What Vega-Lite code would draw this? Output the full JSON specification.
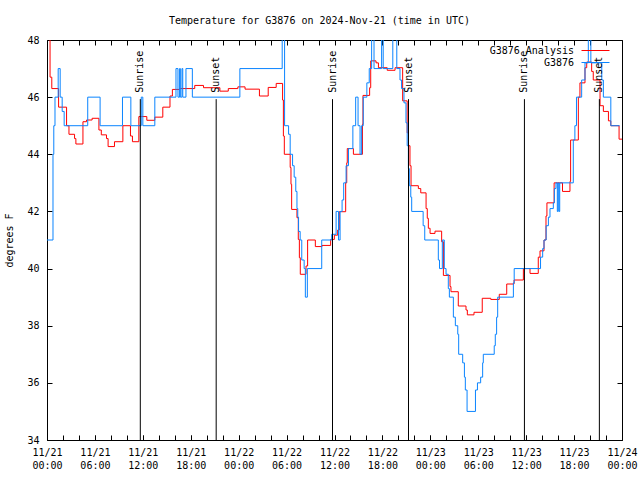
{
  "$schema": "https://vega.github.io/schema/vega-lite/v6.json",
  "width": 575,
  "height": 400,
  "autosize": {"type": "none"},
  "padding": {"left": 47, "top": 40, "right": 18, "bottom": 40},
  "background": "white",
  "config": {
    "view": {"stroke": "black", "strokeWidth": 1},
    "font": "DejaVu Sans Mono"
  },
  "title": {
    "text": "Temperature for G3876 on 2024-Nov-21 (time in UTC)",
    "font": "DejaVu Sans Mono",
    "fontSize": 10,
    "fontWeight": "normal",
    "color": "black",
    "anchor": "middle",
    "baseline": "bottom",
    "offset": 15,
    "dx": -15,
    "dy": 16
  },
  "datasets": {
    "ana": [
      {"series": "G3876 Analysis", "time": "2024-11-21T00:00:00Z", "temp": 49},
      {"series": "G3876 Analysis", "time": "2024-11-21T00:23:00Z", "temp": 46.7},
      {"series": "G3876 Analysis", "time": "2024-11-21T00:36:00Z", "temp": 46.3},
      {"series": "G3876 Analysis", "time": "2024-11-21T01:27:00Z", "temp": 45.65},
      {"series": "G3876 Analysis", "time": "2024-11-21T02:27:00Z", "temp": 45.0},
      {"series": "G3876 Analysis", "time": "2024-11-21T02:45:00Z", "temp": 44.7},
      {"series": "G3876 Analysis", "time": "2024-11-21T03:27:00Z", "temp": 44.55},
      {"series": "G3876 Analysis", "time": "2024-11-21T03:37:00Z", "temp": 44.36},
      {"series": "G3876 Analysis", "time": "2024-11-21T04:30:00Z", "temp": 45.14},
      {"series": "G3876 Analysis", "time": "2024-11-21T04:57:00Z", "temp": 45.2},
      {"series": "G3876 Analysis", "time": "2024-11-21T05:39:00Z", "temp": 45.26},
      {"series": "G3876 Analysis", "time": "2024-11-21T06:30:00Z", "temp": 44.85},
      {"series": "G3876 Analysis", "time": "2024-11-21T06:48:00Z", "temp": 44.68},
      {"series": "G3876 Analysis", "time": "2024-11-21T07:27:00Z", "temp": 44.55},
      {"series": "G3876 Analysis", "time": "2024-11-21T07:39:00Z", "temp": 44.27},
      {"series": "G3876 Analysis", "time": "2024-11-21T08:27:00Z", "temp": 44.44},
      {"series": "G3876 Analysis", "time": "2024-11-21T09:30:00Z", "temp": 45.0},
      {"series": "G3876 Analysis", "time": "2024-11-21T10:27:00Z", "temp": 44.64},
      {"series": "G3876 Analysis", "time": "2024-11-21T10:42:00Z", "temp": 44.44},
      {"series": "G3876 Analysis", "time": "2024-11-21T11:30:00Z", "temp": 45.32},
      {"series": "G3876 Analysis", "time": "2024-11-21T12:30:00Z", "temp": 45.19},
      {"series": "G3876 Analysis", "time": "2024-11-21T13:30:00Z", "temp": 45.3},
      {"series": "G3876 Analysis", "time": "2024-11-21T14:30:00Z", "temp": 45.65},
      {"series": "G3876 Analysis", "time": "2024-11-21T15:24:00Z", "temp": 46.04},
      {"series": "G3876 Analysis", "time": "2024-11-21T15:42:00Z", "temp": 46.27},
      {"series": "G3876 Analysis", "time": "2024-11-21T16:36:00Z", "temp": 46.3},
      {"series": "G3876 Analysis", "time": "2024-11-21T18:30:00Z", "temp": 46.41},
      {"series": "G3876 Analysis", "time": "2024-11-21T19:36:00Z", "temp": 46.33},
      {"series": "G3876 Analysis", "time": "2024-11-21T21:39:00Z", "temp": 46.21},
      {"series": "G3876 Analysis", "time": "2024-11-21T22:42:00Z", "temp": 46.3},
      {"series": "G3876 Analysis", "time": "2024-11-21T23:54:00Z", "temp": 46.36},
      {"series": "G3876 Analysis", "time": "2024-11-22T00:48:00Z", "temp": 46.28},
      {"series": "G3876 Analysis", "time": "2024-11-22T02:36:00Z", "temp": 46.04},
      {"series": "G3876 Analysis", "time": "2024-11-22T03:42:00Z", "temp": 46.34},
      {"series": "G3876 Analysis", "time": "2024-11-22T04:42:00Z", "temp": 46.48},
      {"series": "G3876 Analysis", "time": "2024-11-22T05:30:00Z", "temp": 45.9},
      {"series": "G3876 Analysis", "time": "2024-11-22T05:36:00Z", "temp": 44.64},
      {"series": "G3876 Analysis", "time": "2024-11-22T05:43:00Z", "temp": 44.0},
      {"series": "G3876 Analysis", "time": "2024-11-22T06:27:00Z", "temp": 43.54},
      {"series": "G3876 Analysis", "time": "2024-11-22T06:33:00Z", "temp": 42.95},
      {"series": "G3876 Analysis", "time": "2024-11-22T06:38:00Z", "temp": 42.07},
      {"series": "G3876 Analysis", "time": "2024-11-22T07:18:00Z", "temp": 41.78},
      {"series": "G3876 Analysis", "time": "2024-11-22T07:28:00Z", "temp": 41.02},
      {"series": "G3876 Analysis", "time": "2024-11-22T07:36:00Z", "temp": 40.38},
      {"series": "G3876 Analysis", "time": "2024-11-22T07:43:00Z", "temp": 39.8},
      {"series": "G3876 Analysis", "time": "2024-11-22T08:26:00Z", "temp": 40.09},
      {"series": "G3876 Analysis", "time": "2024-11-22T08:38:00Z", "temp": 41.0},
      {"series": "G3876 Analysis", "time": "2024-11-22T09:36:00Z", "temp": 40.77},
      {"series": "G3876 Analysis", "time": "2024-11-22T10:26:00Z", "temp": 40.81},
      {"series": "G3876 Analysis", "time": "2024-11-22T11:31:00Z", "temp": 41.02},
      {"series": "G3876 Analysis", "time": "2024-11-22T11:59:00Z", "temp": 41.17},
      {"series": "G3876 Analysis", "time": "2024-11-22T12:24:00Z", "temp": 41.35},
      {"series": "G3876 Analysis", "time": "2024-11-22T12:36:00Z", "temp": 41.99},
      {"series": "G3876 Analysis", "time": "2024-11-22T13:24:00Z", "temp": 43.0},
      {"series": "G3876 Analysis", "time": "2024-11-22T13:32:00Z", "temp": 43.7},
      {"series": "G3876 Analysis", "time": "2024-11-22T13:36:00Z", "temp": 44.2},
      {"series": "G3876 Analysis", "time": "2024-11-22T14:22:00Z", "temp": 44.0},
      {"series": "G3876 Analysis", "time": "2024-11-22T15:30:00Z", "temp": 45.05},
      {"series": "G3876 Analysis", "time": "2024-11-22T15:34:00Z", "temp": 46.06},
      {"series": "G3876 Analysis", "time": "2024-11-22T16:24:00Z", "temp": 46.33},
      {"series": "G3876 Analysis", "time": "2024-11-22T16:32:00Z", "temp": 47.27},
      {"series": "G3876 Analysis", "time": "2024-11-22T17:12:00Z", "temp": 47.2},
      {"series": "G3876 Analysis", "time": "2024-11-22T17:30:00Z", "temp": 47.03},
      {"series": "G3876 Analysis", "time": "2024-11-22T18:36:00Z", "temp": 46.94},
      {"series": "G3876 Analysis", "time": "2024-11-22T19:35:00Z", "temp": 47.03},
      {"series": "G3876 Analysis", "time": "2024-11-22T20:32:00Z", "temp": 45.87},
      {"series": "G3876 Analysis", "time": "2024-11-22T21:06:00Z", "temp": 44.75},
      {"series": "G3876 Analysis", "time": "2024-11-22T21:15:00Z", "temp": 44.3},
      {"series": "G3876 Analysis", "time": "2024-11-22T21:27:00Z", "temp": 43.6},
      {"series": "G3876 Analysis", "time": "2024-11-22T21:35:00Z", "temp": 42.9},
      {"series": "G3876 Analysis", "time": "2024-11-22T22:30:00Z", "temp": 42.8},
      {"series": "G3876 Analysis", "time": "2024-11-22T22:48:00Z", "temp": 42.65},
      {"series": "G3876 Analysis", "time": "2024-11-22T23:28:00Z", "temp": 42.1},
      {"series": "G3876 Analysis", "time": "2024-11-22T23:37:00Z", "temp": 41.76},
      {"series": "G3876 Analysis", "time": "2024-11-22T23:45:00Z", "temp": 41.41},
      {"series": "G3876 Analysis", "time": "2024-11-22T23:58:00Z", "temp": 41.23},
      {"series": "G3876 Analysis", "time": "2024-11-23T00:35:00Z", "temp": 41.31},
      {"series": "G3876 Analysis", "time": "2024-11-23T01:25:00Z", "temp": 40.94},
      {"series": "G3876 Analysis", "time": "2024-11-23T01:38:00Z", "temp": 39.76},
      {"series": "G3876 Analysis", "time": "2024-11-23T02:28:00Z", "temp": 39.37},
      {"series": "G3876 Analysis", "time": "2024-11-23T02:35:00Z", "temp": 39.19},
      {"series": "G3876 Analysis", "time": "2024-11-23T03:30:00Z", "temp": 38.69},
      {"series": "G3876 Analysis", "time": "2024-11-23T04:28:00Z", "temp": 38.55},
      {"series": "G3876 Analysis", "time": "2024-11-23T04:38:00Z", "temp": 38.38},
      {"series": "G3876 Analysis", "time": "2024-11-23T05:28:00Z", "temp": 38.47},
      {"series": "G3876 Analysis", "time": "2024-11-23T06:30:00Z", "temp": 38.96},
      {"series": "G3876 Analysis", "time": "2024-11-23T07:34:00Z", "temp": 38.92},
      {"series": "G3876 Analysis", "time": "2024-11-23T08:38:00Z", "temp": 39.1},
      {"series": "G3876 Analysis", "time": "2024-11-23T09:34:00Z", "temp": 39.46},
      {"series": "G3876 Analysis", "time": "2024-11-23T10:29:00Z", "temp": 39.6},
      {"series": "G3876 Analysis", "time": "2024-11-23T11:39:00Z", "temp": 40.0},
      {"series": "G3876 Analysis", "time": "2024-11-23T12:29:00Z", "temp": 39.83},
      {"series": "G3876 Analysis", "time": "2024-11-23T13:31:00Z", "temp": 40.4},
      {"series": "G3876 Analysis", "time": "2024-11-23T13:44:00Z", "temp": 40.62},
      {"series": "G3876 Analysis", "time": "2024-11-23T14:14:00Z", "temp": 41.0},
      {"series": "G3876 Analysis", "time": "2024-11-23T14:29:00Z", "temp": 41.84},
      {"series": "G3876 Analysis", "time": "2024-11-23T14:36:00Z", "temp": 42.3},
      {"series": "G3876 Analysis", "time": "2024-11-23T15:30:00Z", "temp": 43.0},
      {"series": "G3876 Analysis", "time": "2024-11-23T16:33:00Z", "temp": 42.7},
      {"series": "G3876 Analysis", "time": "2024-11-23T17:29:00Z", "temp": 43.05},
      {"series": "G3876 Analysis", "time": "2024-11-23T17:34:00Z", "temp": 44.5},
      {"series": "G3876 Analysis", "time": "2024-11-23T18:32:00Z", "temp": 46.0},
      {"series": "G3876 Analysis", "time": "2024-11-23T18:44:00Z", "temp": 46.5},
      {"series": "G3876 Analysis", "time": "2024-11-23T19:22:00Z", "temp": 47.03},
      {"series": "G3876 Analysis", "time": "2024-11-23T19:35:00Z", "temp": 47.23},
      {"series": "G3876 Analysis", "time": "2024-11-23T20:12:00Z", "temp": 46.9},
      {"series": "G3876 Analysis", "time": "2024-11-23T20:24:00Z", "temp": 46.6},
      {"series": "G3876 Analysis", "time": "2024-11-23T21:15:00Z", "temp": 45.7},
      {"series": "G3876 Analysis", "time": "2024-11-23T21:40:00Z", "temp": 45.5},
      {"series": "G3876 Analysis", "time": "2024-11-23T22:18:00Z", "temp": 45.17},
      {"series": "G3876 Analysis", "time": "2024-11-23T22:36:00Z", "temp": 45.0},
      {"series": "G3876 Analysis", "time": "2024-11-23T23:38:00Z", "temp": 44.53},
      {"series": "G3876 Analysis", "time": "2024-11-24T00:00:00Z", "temp": 44.53}
    ],
    "obs": [
      {"series": "G3876", "time": "2024-11-21T00:00:00Z", "temp": 41},
      {"series": "G3876", "time": "2024-11-21T00:45:00Z", "temp": 44},
      {"series": "G3876", "time": "2024-11-21T00:51:00Z", "temp": 45},
      {"series": "G3876", "time": "2024-11-21T01:00:00Z", "temp": 46},
      {"series": "G3876", "time": "2024-11-21T01:24:00Z", "temp": 47},
      {"series": "G3876", "time": "2024-11-21T01:39:00Z", "temp": 46},
      {"series": "G3876", "time": "2024-11-21T01:54:00Z", "temp": 45.5},
      {"series": "G3876", "time": "2024-11-21T02:09:00Z", "temp": 45},
      {"series": "G3876", "time": "2024-11-21T05:06:00Z", "temp": 46},
      {"series": "G3876", "time": "2024-11-21T06:39:00Z", "temp": 45},
      {"series": "G3876", "time": "2024-11-21T09:27:00Z", "temp": 46},
      {"series": "G3876", "time": "2024-11-21T10:30:00Z", "temp": 45},
      {"series": "G3876", "time": "2024-11-21T11:48:00Z", "temp": 46},
      {"series": "G3876", "time": "2024-11-21T12:00:00Z", "temp": 45},
      {"series": "G3876", "time": "2024-11-21T13:30:00Z", "temp": 46},
      {"series": "G3876", "time": "2024-11-21T16:09:00Z", "temp": 47},
      {"series": "G3876", "time": "2024-11-21T16:24:00Z", "temp": 46},
      {"series": "G3876", "time": "2024-11-21T16:36:00Z", "temp": 47},
      {"series": "G3876", "time": "2024-11-21T16:42:00Z", "temp": 46},
      {"series": "G3876", "time": "2024-11-21T16:54:00Z", "temp": 47},
      {"series": "G3876", "time": "2024-11-21T17:00:00Z", "temp": 46},
      {"series": "G3876", "time": "2024-11-21T17:24:00Z", "temp": 47},
      {"series": "G3876", "time": "2024-11-21T18:12:00Z", "temp": 46},
      {"series": "G3876", "time": "2024-11-22T00:09:00Z", "temp": 47},
      {"series": "G3876", "time": "2024-11-22T05:27:00Z", "temp": 49},
      {"series": "G3876", "time": "2024-11-22T05:45:00Z", "temp": 45},
      {"series": "G3876", "time": "2024-11-22T06:15:00Z", "temp": 44.7},
      {"series": "G3876", "time": "2024-11-22T06:27:00Z", "temp": 44},
      {"series": "G3876", "time": "2024-11-22T06:45:00Z", "temp": 43.6},
      {"series": "G3876", "time": "2024-11-22T06:57:00Z", "temp": 43.2},
      {"series": "G3876", "time": "2024-11-22T07:09:00Z", "temp": 42.7},
      {"series": "G3876", "time": "2024-11-22T07:18:00Z", "temp": 42.1},
      {"series": "G3876", "time": "2024-11-22T07:24:00Z", "temp": 41.8},
      {"series": "G3876", "time": "2024-11-22T07:30:00Z", "temp": 41.3},
      {"series": "G3876", "time": "2024-11-22T07:42:00Z", "temp": 41},
      {"series": "G3876", "time": "2024-11-22T07:54:00Z", "temp": 40.3},
      {"series": "G3876", "time": "2024-11-22T08:12:00Z", "temp": 40},
      {"series": "G3876", "time": "2024-11-22T08:21:00Z", "temp": 39},
      {"series": "G3876", "time": "2024-11-22T08:36:00Z", "temp": 40},
      {"series": "G3876", "time": "2024-11-22T10:24:00Z", "temp": 41},
      {"series": "G3876", "time": "2024-11-22T11:39:00Z", "temp": 41.2},
      {"series": "G3876", "time": "2024-11-22T12:12:00Z", "temp": 42},
      {"series": "G3876", "time": "2024-11-22T12:30:00Z", "temp": 41},
      {"series": "G3876", "time": "2024-11-22T12:42:00Z", "temp": 42},
      {"series": "G3876", "time": "2024-11-22T12:57:00Z", "temp": 42.4},
      {"series": "G3876", "time": "2024-11-22T13:09:00Z", "temp": 43},
      {"series": "G3876", "time": "2024-11-22T13:27:00Z", "temp": 43.6},
      {"series": "G3876", "time": "2024-11-22T13:45:00Z", "temp": 44.2},
      {"series": "G3876", "time": "2024-11-22T14:18:00Z", "temp": 45},
      {"series": "G3876", "time": "2024-11-22T14:39:00Z", "temp": 46},
      {"series": "G3876", "time": "2024-11-22T14:57:00Z", "temp": 45},
      {"series": "G3876", "time": "2024-11-22T15:12:00Z", "temp": 44},
      {"series": "G3876", "time": "2024-11-22T15:24:00Z", "temp": 45},
      {"series": "G3876", "time": "2024-11-22T15:36:00Z", "temp": 46},
      {"series": "G3876", "time": "2024-11-22T16:03:00Z", "temp": 46.5},
      {"series": "G3876", "time": "2024-11-22T16:21:00Z", "temp": 47},
      {"series": "G3876", "time": "2024-11-22T16:39:00Z", "temp": 49},
      {"series": "G3876", "time": "2024-11-22T16:57:00Z", "temp": 47},
      {"series": "G3876", "time": "2024-11-22T17:54:00Z", "temp": 49},
      {"series": "G3876", "time": "2024-11-22T18:06:00Z", "temp": 47},
      {"series": "G3876", "time": "2024-11-22T19:18:00Z", "temp": 49},
      {"series": "G3876", "time": "2024-11-22T19:48:00Z", "temp": 47},
      {"series": "G3876", "time": "2024-11-22T20:12:00Z", "temp": 46.6},
      {"series": "G3876", "time": "2024-11-22T20:24:00Z", "temp": 46.3},
      {"series": "G3876", "time": "2024-11-22T20:42:00Z", "temp": 45.8},
      {"series": "G3876", "time": "2024-11-22T20:57:00Z", "temp": 45.1},
      {"series": "G3876", "time": "2024-11-22T21:06:00Z", "temp": 44.3},
      {"series": "G3876", "time": "2024-11-22T21:15:00Z", "temp": 43.5},
      {"series": "G3876", "time": "2024-11-22T21:22:00Z", "temp": 42.9},
      {"series": "G3876", "time": "2024-11-22T21:33:00Z", "temp": 42.5},
      {"series": "G3876", "time": "2024-11-22T21:40:00Z", "temp": 42},
      {"series": "G3876", "time": "2024-11-22T23:06:00Z", "temp": 41.5},
      {"series": "G3876", "time": "2024-11-22T23:18:00Z", "temp": 41},
      {"series": "G3876", "time": "2024-11-23T01:00:00Z", "temp": 40.3},
      {"series": "G3876", "time": "2024-11-23T01:09:00Z", "temp": 40},
      {"series": "G3876", "time": "2024-11-23T01:30:00Z", "temp": 41},
      {"series": "G3876", "time": "2024-11-23T01:45:00Z", "temp": 40},
      {"series": "G3876", "time": "2024-11-23T01:58:00Z", "temp": 39.8},
      {"series": "G3876", "time": "2024-11-23T02:15:00Z", "temp": 39.3},
      {"series": "G3876", "time": "2024-11-23T02:23:00Z", "temp": 39},
      {"series": "G3876", "time": "2024-11-23T02:53:00Z", "temp": 38.3},
      {"series": "G3876", "time": "2024-11-23T03:08:00Z", "temp": 38},
      {"series": "G3876", "time": "2024-11-23T03:26:00Z", "temp": 37.7},
      {"series": "G3876", "time": "2024-11-23T03:33:00Z", "temp": 37},
      {"series": "G3876", "time": "2024-11-23T04:03:00Z", "temp": 36.7},
      {"series": "G3876", "time": "2024-11-23T04:16:00Z", "temp": 36.2},
      {"series": "G3876", "time": "2024-11-23T04:23:00Z", "temp": 35.75},
      {"series": "G3876", "time": "2024-11-23T04:36:00Z", "temp": 35},
      {"series": "G3876", "time": "2024-11-23T05:39:00Z", "temp": 35.75},
      {"series": "G3876", "time": "2024-11-23T05:54:00Z", "temp": 36},
      {"series": "G3876", "time": "2024-11-23T06:18:00Z", "temp": 36.2},
      {"series": "G3876", "time": "2024-11-23T06:33:00Z", "temp": 36.7},
      {"series": "G3876", "time": "2024-11-23T06:38:00Z", "temp": 37},
      {"series": "G3876", "time": "2024-11-23T08:00:00Z", "temp": 37.3},
      {"series": "G3876", "time": "2024-11-23T08:08:00Z", "temp": 37.7},
      {"series": "G3876", "time": "2024-11-23T08:18:00Z", "temp": 38.3},
      {"series": "G3876", "time": "2024-11-23T08:26:00Z", "temp": 39},
      {"series": "G3876", "time": "2024-11-23T10:24:00Z", "temp": 39.5},
      {"series": "G3876", "time": "2024-11-23T10:30:00Z", "temp": 40},
      {"series": "G3876", "time": "2024-11-23T13:48:00Z", "temp": 40.4},
      {"series": "G3876", "time": "2024-11-23T14:04:00Z", "temp": 40.7},
      {"series": "G3876", "time": "2024-11-23T14:14:00Z", "temp": 41},
      {"series": "G3876", "time": "2024-11-23T14:30:00Z", "temp": 41.5},
      {"series": "G3876", "time": "2024-11-23T14:47:00Z", "temp": 41.8},
      {"series": "G3876", "time": "2024-11-23T14:59:00Z", "temp": 42.1},
      {"series": "G3876", "time": "2024-11-23T15:24:00Z", "temp": 42.3},
      {"series": "G3876", "time": "2024-11-23T15:32:00Z", "temp": 42.8},
      {"series": "G3876", "time": "2024-11-23T15:44:00Z", "temp": 43},
      {"series": "G3876", "time": "2024-11-23T15:54:00Z", "temp": 42},
      {"series": "G3876", "time": "2024-11-23T16:00:00Z", "temp": 43},
      {"series": "G3876", "time": "2024-11-23T16:06:00Z", "temp": 42},
      {"series": "G3876", "time": "2024-11-23T16:12:00Z", "temp": 43},
      {"series": "G3876", "time": "2024-11-23T17:54:00Z", "temp": 44.5},
      {"series": "G3876", "time": "2024-11-23T18:06:00Z", "temp": 45},
      {"series": "G3876", "time": "2024-11-23T18:18:00Z", "temp": 46},
      {"series": "G3876", "time": "2024-11-23T18:57:00Z", "temp": 46.6},
      {"series": "G3876", "time": "2024-11-23T19:22:00Z", "temp": 47.2},
      {"series": "G3876", "time": "2024-11-23T19:47:00Z", "temp": 49},
      {"series": "G3876", "time": "2024-11-23T20:06:00Z", "temp": 47.2},
      {"series": "G3876", "time": "2024-11-23T21:28:00Z", "temp": 46.6},
      {"series": "G3876", "time": "2024-11-23T21:40:00Z", "temp": 46},
      {"series": "G3876", "time": "2024-11-23T22:36:00Z", "temp": 45},
      {"series": "G3876", "time": "2024-11-23T23:42:00Z", "temp": 45}
    ],
    "sun": [
      {"time": "2024-11-21T11:41:00Z", "label": "Sunrise"},
      {"time": "2024-11-21T21:11:00Z", "label": "Sunset"},
      {"time": "2024-11-22T11:45:00Z", "label": "Sunrise"},
      {"time": "2024-11-22T21:16:00Z", "label": "Sunset"},
      {"time": "2024-11-23T11:47:00Z", "label": "Sunrise"},
      {"time": "2024-11-23T21:10:00Z", "label": "Sunset"}
    ]
  },
  "layer": [
    {
      "data": {"name": "ana"},
      "mark": {"type": "line", "interpolate": "step-after", "strokeWidth": 1, "clip": true},
      "encoding": {
        "x": {
          "field": "time", "type": "temporal",
          "scale": {"type": "utc", "domain": [1732147200000, 1732406400000]},
          "axis": {
            "orient": "bottom", "offset": -5, "domain": false, "grid": false,
            "tickSize": 5, "tickColor": "black", "tickWidth": 1,
            "values": [1732147200000, 1732168800000, 1732190400000, 1732212000000, 1732233600000, 1732255200000, 1732276800000, 1732298400000, 1732320000000, 1732341600000, 1732363200000, 1732384800000, 1732406400000],
            "format": "%m/%d",
            "labelFont": "DejaVu Sans Mono", "labelFontSize": 10, "labelColor": "black",
            "labelBaseline": "top", "labelPadding": 7,
            "labelFlush": false, "labelOverlap": false, "labelBound": false,
            "title": null
          }
        },
        "y": {
          "field": "temp", "type": "quantitative",
          "scale": {"domain": [34, 48], "nice": false, "zero": false},
          "axis": {
            "orient": "left", "offset": -5, "domain": false, "grid": false,
            "tickSize": 5, "tickColor": "black",
            "values": [34, 36, 38, 40, 42, 44, 46, 48],
            "labelFont": "DejaVu Sans Mono", "labelFontSize": 10, "labelColor": "black",
            "labelPadding": 8,
            "title": "degrees F", "titleFont": "DejaVu Sans Mono", "titleFontSize": 10,
            "titleFontWeight": "normal", "titleColor": "black", "titlePadding": 12
          }
        },
        "color": {
          "field": "series", "type": "nominal",
          "scale": {"domain": ["G3876 Analysis"], "range": ["#ff0000"]},
          "legend": {
            "orient": "none", "legendX": 534, "legendY": -4, "title": null,
            "symbolType": "stroke", "symbolSize": 784, "symbolStrokeWidth": 1,
            "labelAlign": "right", "labelOffset": -36,
            "labelFont": "DejaVu Sans Mono", "labelFontSize": 10, "labelColor": "black"
          }
        }
      }
    },
    {
      "data": {"name": "obs"},
      "mark": {"type": "line", "interpolate": "step-after", "strokeWidth": 1, "clip": true},
      "encoding": {
        "x": {
          "field": "time", "type": "temporal",
          "axis": {
            "orient": "top", "offset": -5, "domain": false, "grid": false,
            "tickSize": 5, "tickColor": "black",
            "values": [1732147200000, 1732154400000, 1732161600000, 1732168800000, 1732176000000, 1732183200000, 1732190400000, 1732197600000, 1732204800000, 1732212000000, 1732219200000, 1732226400000, 1732233600000, 1732240800000, 1732248000000, 1732255200000, 1732262400000, 1732269600000, 1732276800000, 1732284000000, 1732291200000, 1732298400000, 1732305600000, 1732312800000, 1732320000000, 1732327200000, 1732334400000, 1732341600000, 1732348800000, 1732356000000, 1732363200000, 1732370400000, 1732377600000, 1732384800000, 1732392000000, 1732399200000, 1732406400000],
            "labels": false, "title": null
          }
        },
        "y": {
          "field": "temp", "type": "quantitative",
          "axis": {
            "orient": "right", "offset": -5, "domain": false, "grid": false,
            "tickSize": 5, "tickColor": "black",
            "values": [34, 36, 38, 40, 42, 44, 46, 48],
            "labels": false, "title": null
          }
        },
        "stroke": {
          "field": "series", "type": "nominal",
          "scale": {"domain": ["G3876"], "range": ["#0a84ff"]},
          "legend": {
            "orient": "none", "legendX": 534, "legendY": 8, "title": null,
            "symbolType": "stroke", "symbolSize": 784, "symbolStrokeWidth": 1,
            "labelAlign": "right", "labelOffset": -36,
            "labelFont": "DejaVu Sans Mono", "labelFontSize": 10, "labelColor": "black"
          }
        }
      }
    },
    {
      "data": {"name": "sun"},
      "mark": {"type": "rule", "color": "black", "strokeWidth": 1},
      "encoding": {
        "x": {
          "field": "time", "type": "temporal",
          "axis": {
            "orient": "bottom", "offset": -5, "domain": false, "grid": false,
            "tickSize": 5, "tickColor": "black",
            "values": [1732147200000, 1732154400000, 1732161600000, 1732168800000, 1732176000000, 1732183200000, 1732190400000, 1732197600000, 1732204800000, 1732212000000, 1732219200000, 1732226400000, 1732233600000, 1732240800000, 1732248000000, 1732255200000, 1732262400000, 1732269600000, 1732276800000, 1732284000000, 1732291200000, 1732298400000, 1732305600000, 1732312800000, 1732320000000, 1732327200000, 1732334400000, 1732341600000, 1732348800000, 1732356000000, 1732363200000, 1732370400000, 1732377600000, 1732384800000, 1732392000000, 1732399200000, 1732406400000],
            "labels": false, "title": null
          }
        },
        "y": {"datum": 34, "axis": null},
        "y2": {"datum": 45.93}
      }
    },
    {
      "data": {"name": "sun"},
      "mark": {"type": "text", "angle": 270, "align": "left", "baseline": "middle", "font": "DejaVu Sans Mono", "fontSize": 10, "color": "black"},
      "encoding": {
        "x": {
          "field": "time", "type": "temporal",
          "axis": {
            "orient": "bottom", "offset": -5, "domain": false, "grid": false,
            "tickSize": 5, "tickColor": "black", "tickOpacity": 0,
            "values": [1732147200000, 1732168800000, 1732190400000, 1732212000000, 1732233600000, 1732255200000, 1732276800000, 1732298400000, 1732320000000, 1732341600000, 1732363200000, 1732384800000, 1732406400000],
            "format": "%H:%M",
            "labelFont": "DejaVu Sans Mono", "labelFontSize": 10, "labelColor": "black",
            "labelBaseline": "top", "labelPadding": 20,
            "labelFlush": false, "labelOverlap": false, "labelBound": false,
            "title": null
          }
        },
        "y": {"datum": 46.15, "axis": null},
        "text": {"field": "label"}
      }
    }
  ],
  "resolve": {"axis": {"x": "independent", "y": "independent"}}
}
